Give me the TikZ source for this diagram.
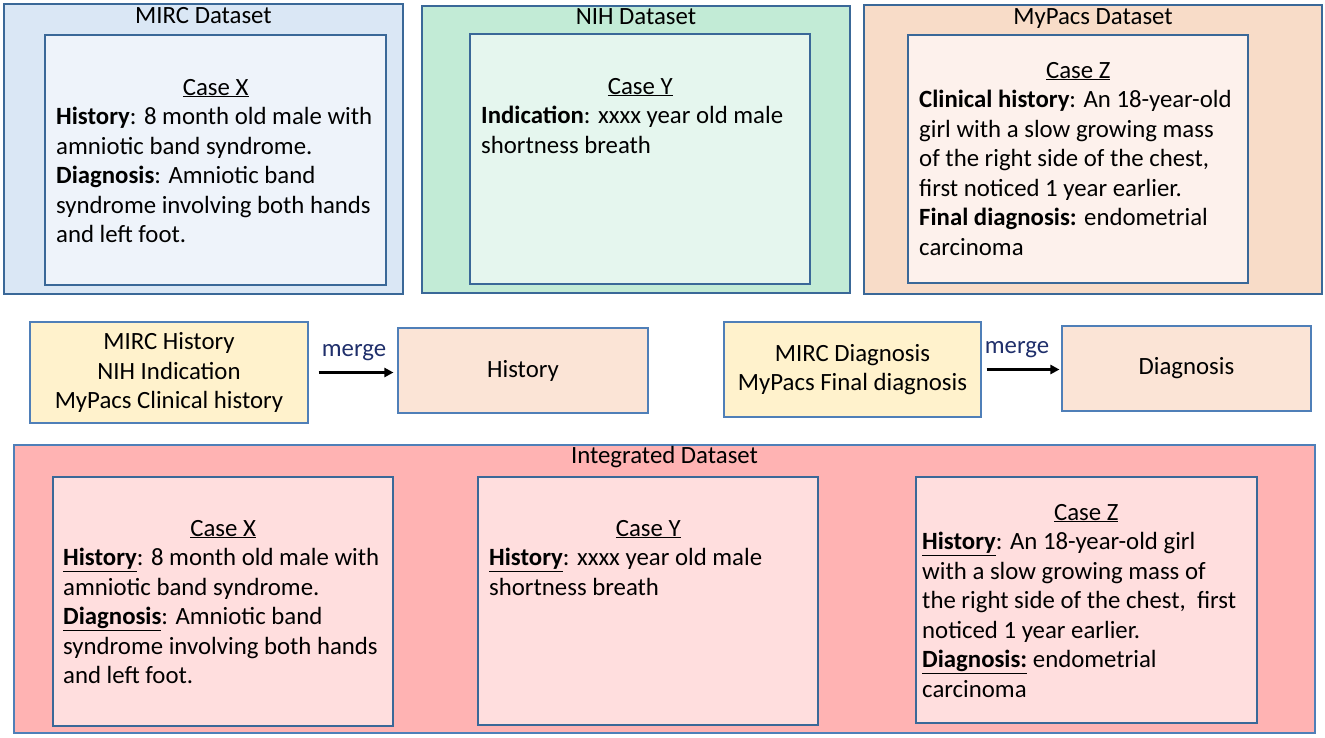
\documentclass[tikz,border=0pt]{standalone}
\usepackage{fontspec}
\setmainfont{Carlito}
\usetikzlibrary{arrows.meta}
\definecolor{bblue}{HTML}{3A6898}
\definecolor{tblue}{HTML}{4F7FB8}
\definecolor{mircout}{HTML}{DAE7F5}
\definecolor{mircin}{HTML}{EEF3FA}
\definecolor{nihout}{HTML}{C2EBD6}
\definecolor{nihin}{HTML}{E5F6EE}
\definecolor{mypout}{HTML}{F8DCC8}
\definecolor{mypin}{HTML}{FDF1EC}
\definecolor{yel}{HTML}{FFF2CC}
\definecolor{peach}{HTML}{FBE4D6}
\definecolor{intout}{HTML}{FFB3B3}
\definecolor{intin}{HTML}{FFDEDE}
\definecolor{navy}{HTML}{1F2F6B}
\newcommand\casetext[3]{\parbox[t]{#1pt}{\centering\underline{#2}\par\raggedright #3}}
\begin{document}
\begin{tikzpicture}[x=1pt,y=-1pt,
  every node/.style={font={\fontsize{24.8}{29.5}\selectfont}},
  thickbox/.style={draw=bblue, line width=2.6pt, rectangle, inner sep=0},
  thinbox/.style={draw=tblue, line width=1.1pt, rectangle, inner sep=0},
  txt/.style={anchor=base west, inner sep=0},
  ttl/.style={anchor=base, inner sep=0},
  arr/.style={-{Triangle[length=9pt,width=9pt]}, line width=2.4pt, black}]
\useasboundingbox (0,0) rectangle (1325,737);
% top row
\node[thickbox, fill=mircout, minimum width=399pt, minimum height=290pt] (mo) at (203.5,149) {};
\node[thickbox, fill=mircin, minimum width=341pt, minimum height=250pt] (mi) at (215.5,160) {};
\node[ttl] (mt) at (203.5,23) {MIRC Dataset};
\node[txt] (mx) at (56,95) {\casetext{319}{Case X}{\textbf{History}: 8 month old male with\\amniotic band syndrome.\\\textbf{Diagnosis}: Amniotic band\\syndrome involving both hands\\and left foot.}};

\node[thickbox, fill=nihout, minimum width=428pt, minimum height=287pt] (no) at (636,149.5) {};
\node[thickbox, fill=nihin, minimum width=340pt, minimum height=250pt] (ni) at (640,159) {};
\node[ttl] (nt) at (636,24) {NIH Dataset};
\node[txt] (ny) at (481,94) {\casetext{318}{Case Y}{\textbf{Indication}: xxxx year old male\\shortness breath}};

\node[thickbox, fill=mypout, minimum width=458pt, minimum height=289pt] (po) at (1093,149.5) {};
\node[thickbox, fill=mypin, minimum width=340pt, minimum height=248pt] (pi) at (1078,159) {};
\node[ttl] (pt) at (1093,24) {MyPacs Dataset};
\node[txt] (pz) at (919,78) {\casetext{318}{Case Z}{\textbf{Clinical history}: An 18-year-old\\girl with a slow growing mass\\of the right side of the chest,\\first noticed 1 year earlier.\\\textbf{Final diagnosis:} endometrial\\carcinoma}};

% middle row
\node[thinbox, fill=yel, minimum width=278pt, minimum height=101pt, align=center] (m1) at (169,372.5) {MIRC History\\NIH Indication\\MyPacs Clinical history};
\node[thinbox, fill=peach, minimum width=250pt, minimum height=85pt] (h1) at (523,370.5) {History};
\draw[arr, shorten <=10pt, shorten >=4pt] (m1.east) -- (m1.east -| h1.west);
\node[ttl, text=navy] (g1) at (354,356) {merge};

\node[thinbox, fill=yel, minimum width=257pt, minimum height=95pt, align=center] (m2) at (852.5,369.5) {MIRC Diagnosis\\MyPacs Final diagnosis};
\node[thinbox, fill=peach, minimum width=249pt, minimum height=85pt] (h2) at (1186.5,368.5) {Diagnosis};
\draw[arr, shorten <=5pt, shorten >=2pt] (m2.east) -- (m2.east -| h2.west);
\node[ttl, text=navy] (g2) at (1017,353) {merge};

% bottom
\node[draw=tblue, line width=1.4pt, fill=intout, inner sep=0, minimum width=1301pt, minimum height=288pt] (io) at (664.5,589) {};
\node[ttl] (it) at (664.5,463) {Integrated Dataset};
\node[thickbox, fill=intin, minimum width=340pt, minimum height=249pt] (ix) at (223,601.5) {};
\node[thickbox, fill=intin, minimum width=340pt, minimum height=248pt] (iy) at (648,601) {};
\node[thickbox, fill=intin, minimum width=341pt, minimum height=246pt] (iz) at (1086.5,600) {};
\node[txt] (bx) at (63,536) {\casetext{320}{Case X}{\underline{\textbf{History}}: 8 month old male with\\amniotic band syndrome.\\\underline{\textbf{Diagnosis}}: Amniotic band\\syndrome involving both hands\\and left foot.}};
\node[txt] (by) at (489,536) {\casetext{318}{Case Y}{\underline{\textbf{History}}: xxxx year old male\\shortness breath}};
\node[txt] (bz) at (922,520) {\casetext{328}{Case Z}{\underline{\textbf{History}}: An 18-year-old girl\\with a slow growing mass of\\the right side of the chest,~~first\\noticed 1 year earlier.\\\underline{\textbf{Diagnosis:}} endometrial\\carcinoma}};
\end{tikzpicture}
\end{document}
